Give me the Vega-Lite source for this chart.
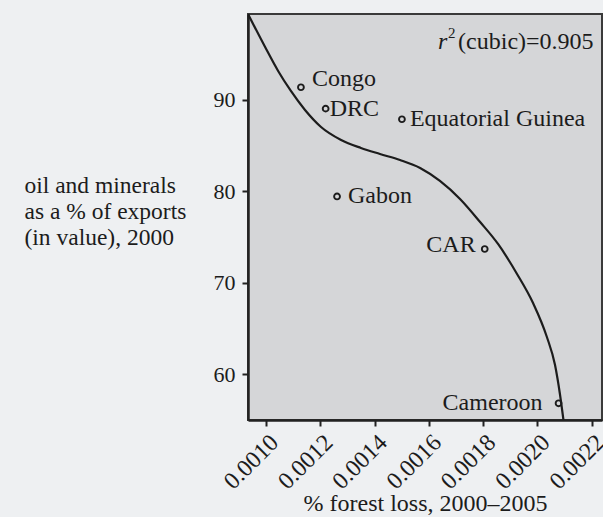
{
  "$schema": "https://vega.github.io/schema/vega-lite/v6.json",
  "autosize": {"type": "none"},
  "padding": {"left": 248, "top": 14, "right": 1, "bottom": 97},
  "width": 354,
  "height": 406,
  "background": "#eef0f2",
  "config": {
    "view": {"fill": "#d5d6d8", "stroke": "#3a3a3a", "strokeWidth": 2},
    "font": "Liberation Serif",
    "text": {"font": "Liberation Serif", "fontSize": 24, "color": "#1c1c1c", "baseline": "middle"}
  },
  "datasets": {
    "countries": [
      {"country": "Congo", "loss": 0.001129, "oil": 91.39},
      {"country": "DRC", "loss": 0.00122, "oil": 89.05},
      {"country": "Equatorial Guinea", "loss": 0.001501, "oil": 87.89},
      {"country": "Gabon", "loss": 0.001262, "oil": 79.45},
      {"country": "CAR", "loss": 0.001806, "oil": 73.7},
      {"country": "Cameroon", "loss": 0.002078, "oil": 56.83}
    ],
    "fit": [
      {"loss": 0.000934, "oil": 99.4},
      {"loss": 0.000997, "oil": 95.79},
      {"loss": 0.001045, "oil": 93.17},
      {"loss": 0.001092, "oil": 90.98},
      {"loss": 0.001144, "oil": 88.9},
      {"loss": 0.001203, "oil": 87.04},
      {"loss": 0.001277, "oil": 85.62},
      {"loss": 0.00135, "oil": 84.75},
      {"loss": 0.00142, "oil": 84.09},
      {"loss": 0.001494, "oil": 83.43},
      {"loss": 0.001568, "oil": 82.56},
      {"loss": 0.001641, "oil": 81.14},
      {"loss": 0.001715, "oil": 79.17},
      {"loss": 0.001789, "oil": 76.65},
      {"loss": 0.001855, "oil": 74.25},
      {"loss": 0.001925, "oil": 70.97},
      {"loss": 0.001984, "oil": 67.79},
      {"loss": 0.002035, "oil": 64.08},
      {"loss": 0.002065, "oil": 61.01},
      {"loss": 0.002083, "oil": 57.84},
      {"loss": 0.002096, "oil": 55.0}
    ]
  },
  "layer": [
    {
      "data": {"name": "fit"},
      "mark": {"type": "line", "color": "#1c1c1c", "strokeWidth": 2.2, "interpolate": "monotone", "clip": true},
      "encoding": {
        "x": {
          "field": "loss", "type": "quantitative",
          "scale": {"domain": [0.000934, 0.002238], "nice": false, "zero": false},
          "axis": {
            "values": [0.001, 0.0012, 0.0014, 0.0016, 0.0018, 0.002, 0.0022],
            "format": ".4f",
            "grid": false,
            "labelAngle": -45,
            "labelOverlap": false,
            "labelBound": false,
            "labelFont": "Liberation Serif",
            "labelFontSize": 24,
            "labelColor": "#1c1c1c",
            "labelPadding": 4,
            "tickSize": 6,
            "tickWidth": 2,
            "tickColor": "#222",
            "domainColor": "#222",
            "domainWidth": 2.5,
            "title": "% forest loss, 2000–2005",
            "titleFont": "Liberation Serif",
            "titleFontSize": 24,
            "titleFontWeight": "normal",
            "titleColor": "#1c1c1c",
            "titleBaseline": "alphabetic",
            "titleY": 90
          }
        },
        "y": {
          "field": "oil", "type": "quantitative",
          "scale": {"domain": [55.0, 99.4], "nice": false, "zero": false},
          "axis": {
            "values": [60, 70, 80, 90],
            "grid": false,
            "labelFont": "Liberation Serif",
            "labelFontSize": 22,
            "labelColor": "#1c1c1c",
            "labelPadding": 7,
            "tickSize": 6,
            "tickWidth": 2,
            "tickColor": "#222",
            "domainColor": "#222",
            "domainWidth": 2.5,
            "title": ["oil and minerals", "as a % of exports", "(in value), 2000"],
            "titleFont": "Liberation Serif",
            "titleFontSize": 23.5,
            "titleFontWeight": "normal",
            "titleColor": "#1c1c1c",
            "titleAngle": 0,
            "titleAlign": "left",
            "titleBaseline": "alphabetic",
            "titleLineHeight": 26,
            "titleX": -224,
            "titleY": 178
          }
        }
      }
    },
    {
      "data": {"name": "countries"},
      "mark": {"type": "point", "shape": "circle", "filled": false, "size": 34, "strokeWidth": 1.9, "color": "#1c1c1c", "opacity": 1},
      "encoding": {
        "x": {"field": "loss", "type": "quantitative"},
        "y": {"field": "oil", "type": "quantitative"}
      }
    },
    {
      "data": {"name": "countries"},
      "transform": [{"filter": "datum.country === 'Congo'"}],
      "mark": {"type": "text", "align": "left", "dx": 11, "dy": -8},
      "encoding": {"x": {"field": "loss", "type": "quantitative"}, "y": {"field": "oil", "type": "quantitative"}, "text": {"field": "country"}}
    },
    {
      "data": {"name": "countries"},
      "transform": [{"filter": "datum.country === 'DRC'"}],
      "mark": {"type": "text", "align": "left", "dx": 4},
      "encoding": {"x": {"field": "loss", "type": "quantitative"}, "y": {"field": "oil", "type": "quantitative"}, "text": {"field": "country"}}
    },
    {
      "data": {"name": "countries"},
      "transform": [{"filter": "datum.country === 'Equatorial Guinea'"}],
      "mark": {"type": "text", "align": "left", "dx": 8},
      "encoding": {"x": {"field": "loss", "type": "quantitative"}, "y": {"field": "oil", "type": "quantitative"}, "text": {"field": "country"}}
    },
    {
      "data": {"name": "countries"},
      "transform": [{"filter": "datum.country === 'Gabon'"}],
      "mark": {"type": "text", "align": "left", "dx": 11},
      "encoding": {"x": {"field": "loss", "type": "quantitative"}, "y": {"field": "oil", "type": "quantitative"}, "text": {"field": "country"}}
    },
    {
      "data": {"name": "countries"},
      "transform": [{"filter": "datum.country === 'CAR'"}],
      "mark": {"type": "text", "align": "right", "dx": -9, "dy": -4},
      "encoding": {"x": {"field": "loss", "type": "quantitative"}, "y": {"field": "oil", "type": "quantitative"}, "text": {"field": "country"}}
    },
    {
      "data": {"name": "countries"},
      "transform": [{"filter": "datum.country === 'Cameroon'"}],
      "mark": {"type": "text", "align": "right", "dx": -16},
      "encoding": {"x": {"field": "loss", "type": "quantitative"}, "y": {"field": "oil", "type": "quantitative"}, "text": {"field": "country"}}
    },
    {
      "data": {"values": [{"loss": 0.001634, "oil": 95.57, "label": "r"}]},
      "mark": {"type": "text", "align": "left", "baseline": "alphabetic", "fontStyle": "italic"},
      "encoding": {"x": {"field": "loss", "type": "quantitative"}, "y": {"field": "oil", "type": "quantitative"}, "text": {"field": "label"}}
    },
    {
      "data": {"values": [{"loss": 0.001671, "oil": 96.78, "label": "2"}]},
      "mark": {"type": "text", "align": "left", "baseline": "alphabetic", "fontSize": 15},
      "encoding": {"x": {"field": "loss", "type": "quantitative"}, "y": {"field": "oil", "type": "quantitative"}, "text": {"field": "label"}}
    },
    {
      "data": {"values": [{"loss": 0.001708, "oil": 95.57, "label": "(cubic)=0.905"}]},
      "mark": {"type": "text", "align": "left", "baseline": "alphabetic"},
      "encoding": {"x": {"field": "loss", "type": "quantitative"}, "y": {"field": "oil", "type": "quantitative"}, "text": {"field": "label"}}
    }
  ]
}
